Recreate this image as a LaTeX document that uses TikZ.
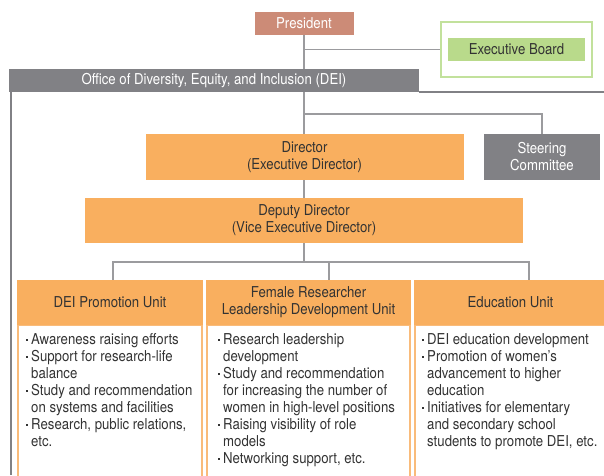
\documentclass[tikz,border=0pt]{standalone}
\usepackage{fontspec}
\setmainfont{TeX Gyre Heros}[FakeStretch=0.88]
\usetikzlibrary{backgrounds}

\definecolor{unitorange}{HTML}{F9AF5F}
\definecolor{bodyorange}{HTML}{F9BB7A}
\definecolor{presred}{HTML}{CC8B77}
\definecolor{officegray}{HTML}{818185}
\definecolor{linegray}{HTML}{9B9B9E}
\definecolor{boardgreen}{HTML}{B9DA8B}
\definecolor{framegreen}{HTML}{C2E19C}
\definecolor{textdark}{HTML}{333333}

\newcommand{\dotmark}{\makebox[6pt][l]{\hspace{0.6pt}\raisebox{3.4pt}{\rule{1.8pt}{1.8pt}}}}
\newcommand{\contind}{\hspace*{6pt}}

\begin{document}
\begin{tikzpicture}[x=1pt, y=-1pt,
    box/.style={inner sep=0pt, font=\fontsize{15}{17}\selectfont, align=center},
    orangebox/.style={box, fill=unitorange, text=textdark},
    graybox/.style={box, fill=officegray, text=white},
    presbox/.style={box, fill=presred, text=white},
    boardbox/.style={box, fill=boardgreen, text=textdark},
    boardframe/.style={draw=framegreen, line width=2pt, fill=white, inner sep=0pt},
    unitbody/.style={draw=bodyorange, line width=1.5pt, fill=white, inner sep=0pt},
    listtext/.style={inner sep=0pt, align=left, anchor=north west,
                     font=\fontsize{15}{17}\selectfont, text=textdark},
    link/.style={draw=linegray, line width=1.5pt},
    officeline/.style={draw=officegray, line width=2pt}]

  \useasboundingbox (0,0) rectangle (604,475);
  \coordinate (pageSE) at (604,475);

  % top of the chart
  \node [presbox, minimum width=99pt, minimum height=23pt] (pres) at (304,23.5) {President};
  \node [boardframe, minimum width=151pt, minimum height=55pt] (boardfr) at (516.5,49.5) {};
  \node [boardbox, minimum width=137pt, minimum height=23pt] (board) at (516.5,49.5) {Executive Board};
  \node [graybox, minimum width=410pt, minimum height=23pt] (office) at (214,80.5)
        {Office of Diversity, Equity, and Inclusion (DEI)};

  % office
  \node [orangebox, minimum width=318pt, minimum height=46pt] (dir) at (304.5,157)
        {Director\\(Executive Director)};
  \node [graybox, minimum width=116pt, minimum height=46pt] (steer) at (542,157)
        {Steering\\Committee};
  \node [orangebox, minimum width=438pt, minimum height=45pt] (dep) at (304,220.5)
        {Deputy Director\\(Vice Executive Director)};

  % units
  \node [unitbody, minimum width=184pt, minimum height=160pt] (bodyA) at (110,405) {};
  \node [unitbody, minimum width=203pt, minimum height=160pt] (bodyB) at (308.5,405) {};
  \node [unitbody, minimum width=193pt, minimum height=160pt] (bodyC) at (511.5,405) {};
  \node [orangebox, minimum width=186pt, minimum height=45pt] (headA) at (110,302.5)
        {DEI Promotion Unit};
  \node [orangebox, minimum width=205pt, minimum height=45pt] (headB) at (308.5,302.5)
        {Female Researcher\\Leadership Development Unit};
  \node [orangebox, minimum width=193pt, minimum height=45pt] (headC) at (510.5,302.5)
        {Education Unit};

  \node [listtext] (listA) at (25,333)
        {\dotmark Awareness raising efforts\\
         \dotmark Support for research-life\\
         \contind balance\\
         \dotmark Study and recommendation\\
         \contind on systems and facilities\\
         \dotmark Research, public relations,\\
         \contind etc.};
  \node [listtext] (listB) at (217,333)
        {\dotmark Research leadership\\
         \contind development\\
         \dotmark Study and recommendation\\
         \contind for increasing the number of\\
         \contind women in high-level positions\\
         \dotmark Raising visibility of role\\
         \contind models\\
         \dotmark Networking support, etc.};
  \node [listtext] (listC) at (421,333)
        {\dotmark DEI education development\\
         \dotmark Promotion of women's\\
         \contind advancement to higher\\
         \contind education\\
         \dotmark Initiatives for elementary\\
         \contind and secondary school\\
         \contind students to promote DEI, etc.};

  % connectors
  \coordinate (split) at (304,114);
  \coordinate (bus) at (304,262);
  \coordinate (busA) at (113,262);
  \coordinate (busB) at (329,262);
  \coordinate (busC) at (529,262);
  \begin{scope}[on background layer]
    \draw [link] (pres) -- (pres |- dir.north);
    \draw [link] (boardfr.west) -- (boardfr.west -| pres);
    \draw [link] (split) -| (steer.north);
    \draw [link] (dir.south -| pres) -- (pres |- dep.north);
    \draw [link] (dep.south -| pres) -- (bus);
    \draw [link] (busA |- headA.north) -- (busA) -- (busC) -- (busC |- headC.north);
    \draw [link] (busB) -- (busB |- headB.north);
  \end{scope}
  \draw [officeline] ([xshift=2pt]office.south west) -- ([xshift=2pt]office.south west |- pageSE);
  \draw [officeline] (office.south east) -- (office.south east -| pageSE);

\end{tikzpicture}
\end{document}
